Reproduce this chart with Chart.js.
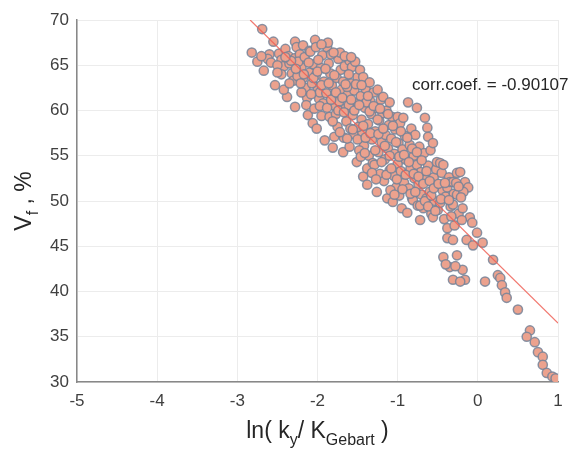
<!DOCTYPE html>
<html>
<head>
<meta charset="utf-8">
<script src="https://cdn.jsdelivr.net/npm/chart.js@4/dist/chart.umd.min.js"></script>
<style>
  body { margin: 0; background: #fff; }
  #chart { display: block; }
</style>
</head>
<body>
<canvas id="chart" width="579" height="452"></canvas>
<script>
// ln(ky / K_Gebart) values
var lnK = [
  -2.82,-2.75,-2.69,-2.67,-2.60,-2.55,-2.53,-2.62,-2.70,-2.58,
  -2.48,-2.45,-2.42,-2.38,-2.40,-2.35,-2.32,-2.30,-2.45,-2.36,-2.28,-2.50,
  -2.28,-2.26,-2.28,-2.22,-2.20,-2.18,-2.15,-2.12,-2.24,-2.16,-2.10,-2.13,-2.20,-2.25,-2.18,-2.10,-2.14,
  -2.09,-2.06,-2.03,-2.05,-2.02,-2.00,-1.98,-2.04,-1.96,-1.94,-1.92,-1.91,-1.95,-2.07,-1.99,-1.93,-2.01,-1.97,
  -1.88,-1.87,-1.86,-1.84,-1.82,-1.81,-1.80,-1.78,-1.85,-1.76,-1.74,-1.72,-1.75,-1.79,-1.70,-1.73,-1.71,-1.83,-1.77,-1.89,
  -1.68,-1.68,-1.66,-1.65,-1.64,-1.62,-1.60,-1.60,-1.58,-1.57,-1.56,-1.55,-1.54,-1.52,-1.51,-1.53,-1.59,-1.63,-1.67,-1.50,-1.61,
  -1.47,-1.46,-1.45,-1.44,-1.43,-1.43,-1.42,-1.41,-1.40,-1.38,-1.38,-1.37,-1.36,-1.35,-1.34,-1.33,-1.32,-1.31,-1.30,-1.48,-1.49,-1.39,
  -1.28,-1.27,-1.26,-1.25,-1.24,-1.23,-1.22,-1.21,-1.20,-1.19,-1.18,-1.17,-1.16,-1.15,-1.14,-1.13,-1.12,-1.11,-1.10,-1.10,-1.29,-1.25,
  -1.08,-1.07,-1.06,-1.05,-1.04,-1.03,-1.02,-1.00,-1.00,-0.99,-0.98,-0.97,-0.96,-0.95,-0.94,-0.93,-0.92,-0.91,-0.90,-1.09,
  -0.88,-0.87,-0.86,-0.85,-0.84,-0.83,-0.82,-0.81,-0.80,-0.79,-0.78,-0.76,-0.76,-0.75,-0.74,-0.73,-0.72,-0.71,-0.70,
  -0.68,-0.67,-0.66,-0.65,-0.64,-0.63,-0.62,-0.62,-0.60,-0.59,-0.58,-0.56,-0.56,-0.55,-0.54,-0.52,-0.51,-0.50,
  -0.47,-0.47,-0.45,-0.44,-0.43,-0.42,-0.40,-0.38,-0.38,-0.38,-0.36,-0.35,-0.34,-0.31,-0.31,-0.31,-0.30,
  -0.29,-0.26,-0.26,-0.24,-0.22,-0.19,-0.16,-0.14,-0.12,-0.10,-0.07,-0.06,-0.01,0.06,-0.18,-0.20,
  -0.43,-0.26,-0.35,-0.31,-0.19,-0.16,-0.22,-0.40,-0.28,0.09,0.19,
  0.25,0.28,0.30,0.34,0.36,0.50,0.65,0.61,0.71,0.75,0.81,0.81,0.86,0.93,0.97,
  -2.33,-2.27,-2.21,-2.17,-2.11,-2.08,-2.05,-2.00,-1.97,-1.95,-1.90,-1.88,-1.86,-1.83,-1.81,-1.79,-1.77,-1.74,
  -1.72,-1.69,-1.67,-1.65,-1.63,-1.61,-1.58,-1.56,-1.54,-1.52,-1.50,-1.48,-1.46,-1.45,-1.43,-1.41,-1.40,-1.37,
  -1.35,-1.34,-1.32,-1.30,-1.28,-1.27,-1.24,-1.22,-1.20,-1.18,-1.16,-1.14,-1.12,-1.10,-1.08,-1.06,-1.04,-1.02,
  -1.01,-0.98,-0.96,-0.94,-0.92,-0.90,-0.88,-0.86,-0.84,-0.82,-0.80,-0.78,-0.76,-0.74,-0.72,-0.70,-0.68,-0.66,
  -0.64,-0.62,-0.60,-0.58,-0.55,-0.53,-0.49,-0.46,-0.41,-0.36,-0.33,-0.27,-0.24,-0.21,-2.42,-2.35,-2.50,-2.40,
  -2.02,-1.95,-1.80,-1.66,-1.58
];
// fibre volume fraction, %
var vf = [
  66.4,65.4,69.0,64.4,66.2,67.6,62.8,65.7,66.0,65.3,
  66.3,65.6,64.9,61.5,66.8,65.2,64.1,63.3,64.0,66.0,65.8,65.0,
  67.6,67.0,60.4,66.2,64.8,63.6,62.5,59.5,65.4,65.9,64.2,61.4,62.0,63.8,67.2,66.6,60.6,
  66.5,58.6,67.8,65.1,63.9,62.6,61.3,60.2,64.7,66.1,63.2,56.7,59.4,63.0,65.6,60.8,58.0,62.0,
  67.0,67.5,65.2,64.1,62.8,55.9,61.7,60.5,59.3,63.6,65.7,66.4,58.2,57.1,62.3,61.0,64.5,66.2,59.6,61.9,
  55.4,63.2,64.9,60.2,58.8,61.8,56.0,65.5,63.0,64.8,59.5,57.4,62.2,60.8,54.3,65.4,58.0,62.6,57.0,63.7,60.6,
  64.5,61.6,59.0,57.6,63.7,52.7,56.1,60.3,62.4,53.6,51.8,58.5,55.0,63.1,61.0,59.6,56.8,54.2,62.0,55.6,58.2,60.9,
  57.7,60.3,51.0,62.3,55.4,58.9,53.0,61.2,56.5,59.7,61.5,52.2,54.6,57.3,60.0,50.3,55.8,58.4,60.9,53.4,54.0,59.0,
  56.9,59.3,49.9,52.8,55.2,57.9,51.5,59.3,54.1,56.4,50.6,58.6,53.3,49.2,55.7,59.2,52.0,57.2,54.6,51.2,
  48.7,60.9,51.4,56.2,53.6,58.0,50.3,50.1,55.0,52.5,57.3,60.3,54.0,49.5,51.8,56.0,47.9,53.2,50.7,
  49.2,55.3,59.2,52.4,50.3,58.1,57.1,53.9,51.0,55.6,48.6,56.4,48.2,52.6,50.0,53.5,54.3,49.0,
  54.2,49.8,53.1,51.2,54.0,48.0,50.5,51.5,47.0,45.9,52.6,52.1,49.4,52.1,49.6,45.7,50.8,
  47.3,53.1,50.7,48.6,53.2,49.2,52.1,45.7,51.5,48.2,47.6,45.1,46.5,45.4,51.0,47.9,
  43.8,44.0,42.7,41.3,42.4,41.3,41.1,43.0,42.8,41.1,43.5,
  41.8,41.5,40.7,39.9,39.3,38.0,35.7,35.0,34.4,33.3,32.8,31.9,31.0,30.6,30.4,
  65.5,64.6,63.0,64.0,65.3,61.8,63.6,64.3,60.5,62.8,64.6,60.3,63.0,61.2,58.8,63.9,62.0,60.0,
  57.6,61.4,59.8,62.9,56.9,64.0,61.2,57.9,60.0,62.9,56.8,60.6,54.9,62.8,58.3,55.3,57.0,61.6,
  59.9,57.5,53.1,60.5,55.6,52.4,57.4,60.2,54.3,58.0,56.1,52.9,59.6,55.0,53.6,58.3,50.7,56.5,
  52.4,54.9,57.7,51.3,55.1,52.9,57.0,54.3,50.8,55.8,53.0,51.0,55.4,52.7,49.5,54.5,51.9,50.0,
  53.3,49.4,52.2,50.6,51.4,48.9,51.9,50.2,52.0,50.1,48.3,52.0,51.6,50.4,62.3,63.0,64.2,65.9,
  67.0,67.3,66.4,66.0,65.9
];
// linear fit end points
var fitX = [-2.84, 1];
var fitY = [70, 36.5];
var corrText = 'corr.coef. = -0.90107';
var xTicks = [-5, -4, -3, -2, -1, 0, 1];
var yTicks = [30, 35, 40, 45, 50, 55, 60, 65, 70];

var points = lnK.map(function (x, i) { return { x: x, y: vf[i] }; });
var fitLine = fitX.map(function (x, i) { return { x: x, y: fitY[i] }; });

var FONT = "'Liberation Sans', Arial, sans-serif";

var labelsPlugin = {
  id: 'labels',
  afterDraw: function (chart) {
    var ctx = chart.ctx;
    var area = chart.chartArea;
    var xs = chart.scales.x, ys = chart.scales.y;
    ctx.save();
    ctx.fillStyle = '#262626';

    // correlation note
    ctx.font = '17px ' + FONT;
    ctx.textAlign = 'left';
    ctx.textBaseline = 'middle';
    ctx.fillText(corrText, xs.getPixelForValue(-0.82), ys.getPixelForValue(62.8));

    // x title with subscripts
    var parts = [['ln( k', false], ['y', true], ['/ K', false], ['Gebart', true], [' )', false]];
    var big = '23px ' + FONT, small = '16px ' + FONT;
    var total = 0;
    parts.forEach(function (p) { ctx.font = p[1] ? small : big; total += ctx.measureText(p[0]).width; });
    var cx = (area.left + area.right) / 2 - total / 2;
    var base = 438;
    ctx.textBaseline = 'alphabetic';
    parts.forEach(function (p) {
      ctx.font = p[1] ? small : big;
      ctx.fillText(p[0], cx, p[1] ? base + 7 : base);
      cx += ctx.measureText(p[0]).width;
    });

    // y title, rotated
    var yparts = [['V', false], ['f', true], [' , %', false]];
    var ytot = 0;
    yparts.forEach(function (p) { ctx.font = p[1] ? small : big; ytot += ctx.measureText(p[0]).width; });
    ctx.translate(31, (area.top + area.bottom) / 2);
    ctx.rotate(-Math.PI / 2);
    var px = -ytot / 2;
    yparts.forEach(function (p) {
      ctx.font = p[1] ? small : big;
      ctx.fillText(p[0], px, p[1] ? 7 : 0);
      px += ctx.measureText(p[0]).width;
    });
    ctx.restore();
  }
};

new Chart(document.getElementById('chart'), {
  type: 'scatter',
  data: {
    datasets: [
      {
        type: 'line',
        data: fitLine,
        borderColor: 'rgba(238,95,85,0.85)',
        borderWidth: 1.2,
        pointRadius: 0,
        fill: false,
        order: 0
      },
      {
        data: points,
        backgroundColor: 'rgb(236,162,142)',
        borderColor: 'rgba(118,130,152,0.85)',
        borderWidth: 1.5,
        pointRadius: 4.6,
        order: 1
      }
    ]
  },
  options: {
    responsive: false,
    animation: false,
    layout: { padding: { left: 0, top: 20, right: 21, bottom: 0 } },
    plugins: { legend: { display: false }, tooltip: { enabled: false } },
    scales: {
      x: {
        type: 'linear',
        min: -5, max: 1,
        afterBuildTicks: function (s) { s.ticks = xTicks.map(function (v) { return { value: v }; }); },
        afterFit: function (s) { s.height = 70; },
        grid: { color: '#ececec', drawTicks: false },
        border: { color: '#888', width: 1.5 },
        ticks: { color: '#404040', padding: 9, font: { size: 17, family: FONT } }
      },
      y: {
        min: 30, max: 70,
        afterBuildTicks: function (s) { s.ticks = yTicks.map(function (v) { return { value: v }; }); },
        afterFit: function (s) { s.width = 77; },
        grid: { color: '#ececec', drawTicks: false },
        border: { color: '#888', width: 1.5 },
        ticks: { color: '#404040', padding: 8, font: { size: 17, family: FONT } }
      }
    }
  },
  plugins: [labelsPlugin]
});
</script>
</body>
</html>
